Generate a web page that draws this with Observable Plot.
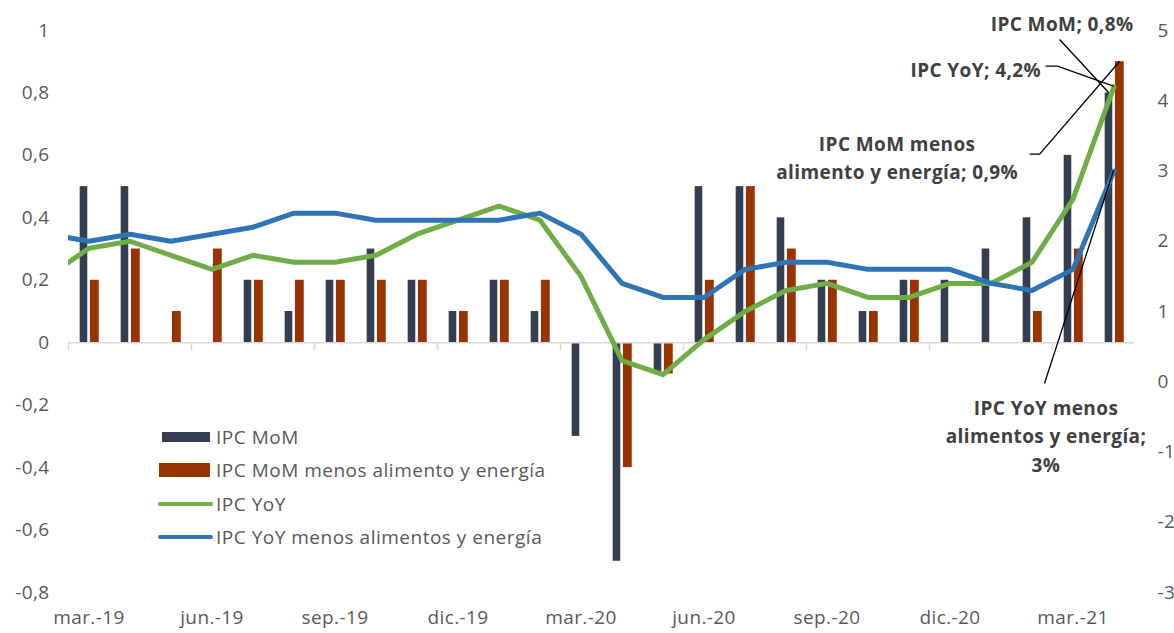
<!DOCTYPE html>
<html><head><meta charset="utf-8">
<script src="https://cdn.jsdelivr.net/npm/d3@7"></script>
<script src="https://cdn.jsdelivr.net/npm/@observablehq/plot@0.6"></script>
<style>
body{margin:0;background:#fff;}
#wrap{position:relative;width:1174px;height:633px;font-family:"Open Sans",sans-serif;}
.leg{position:absolute;left:158px;display:flex;align-items:center;height:26px;font-size:19px;letter-spacing:0.5px;color:#595959;white-space:nowrap;}
.sw{display:inline-block;margin-right:5px;}
</style></head><body><div id="wrap"></div>
<script>
// Categories (monthly)
const months = ["mar.-19","abr.-19","may.-19","jun.-19","jul.-19","ago.-19","sep.-19","oct.-19","nov.-19","dic.-19","ene.-20","feb.-20","mar.-20","abr.-20","may.-20","jun.-20","jul.-20","ago.-20","sep.-20","oct.-20","nov.-20","dic.-20","ene.-21","feb.-21","mar.-21","abr.-21"];
// Bars (left axis, %)
const ipcMoM     = [0.5,0.5,0,0,0.2,0.1,0.2,0.3,0.2,0.1,0.2,0.1,-0.3,-0.7,-0.1,0.5,0.5,0.4,0.2,0.1,0.2,0.2,0.3,0.4,0.6,0.8];
const ipcMoMCore = [0.2,0.3,0.1,0.3,0.2,0.2,0.2,0.2,0.2,0.1,0.2,0.2,0,-0.4,-0.1,0.2,0.5,0.3,0.2,0.1,0.2,0,0,0.1,0.3,0.9];
// Lines (right axis, %), starting one month earlier (feb.-19, clipped at the left edge)
const lineMonths = ["feb.-19"].concat(months);
const ipcYoY     = [1.5,1.9,2.0,1.8,1.6,1.8,1.7,1.7,1.8,2.1,2.3,2.5,2.3,1.5,0.3,0.1,0.6,1.0,1.3,1.4,1.2,1.2,1.4,1.4,1.7,2.6,4.2];
const ipcYoYCore = [2.1,2.0,2.1,2.0,2.1,2.2,2.4,2.4,2.3,2.3,2.3,2.3,2.4,2.1,1.4,1.2,1.2,1.6,1.7,1.7,1.6,1.6,1.6,1.4,1.3,1.6,3.0];
// Tick labels
const leftTicks = [1,0.8,0.6,0.4,0.2,0,-0.2,-0.4,-0.6,-0.8];
const leftTickLabels = ["1","0,8","0,6","0,4","0,2","0","-0,2","-0,4","-0,6","-0,8"];
const rightTicks = [5,4,3,2,1,0,-1,-2,-3];
const rightTickLabels = ["5","4","3","2","1","0","-1","-2","-3"];
const seriesNames = ["IPC MoM","IPC MoM menos alimento y energía","IPC YoY","IPC YoY menos alimentos y energía"];
const colors = ["#333f50","#993300","#70ad47","#2e75b6"];

// secondary axis [-3,5] mapped onto primary [-0.8,1]
const toLeft = v => -0.8 + (v + 3) * 0.225;

const bars = months.map((m, i) => ({i, mom: ipcMoM[i], core: ipcMoMCore[i]}));
const lineData = lineMonths.map((m, k) => ({i: k - 1, yoy: toLeft(ipcYoY[k]), core: toLeft(ipcYoYCore[k])}));
const quarterIdx = months.map((m, i) => i).filter(i => i % 3 === 0);
const rightTickPos = rightTicks.map(toLeft);
const last = months.length - 1;

const annotations = [
  {text: "IPC MoM; 0,8%", x: last - 0.12, y: ipcMoM[last], path: [[-49, -53]], dx: -47, dy: -71, anchor: "middle"},
  {text: "IPC YoY; 4,2%", x: last, y: toLeft(ipcYoY[ipcYoY.length - 1]), path: [[-56, -20], [-68, -20]], dx: -73, dy: -19, anchor: "end"},
  {text: "IPC MoM menos\nalimento y energía; 0,9%", x: last + 0.15, y: ipcMoMCore[last], path: [[-80, 93], [-90, 93]], dx: -223, dy: 94, anchor: "middle"},
  {text: "IPC YoY menos\nalimentos y energía;\n3%", x: last, y: toLeft(ipcYoYCore[ipcYoYCore.length - 1]), path: [[-69, 213]], dx: -68, dy: 263, anchor: "middle"}
];

const leaders = (index, scales, values, dim, context) => {
  const g = d3.create("svg:g");
  for (const a of annotations) {
    const px = scales.x(a.x), py = scales.y(a.y);
    const pts = [[px, py]].concat(a.path.map(([ox, oy]) => [px + ox, py + oy]));
    g.append("path").attr("d", d3.line()(pts)).attr("fill", "none").attr("stroke", "#000").attr("stroke-width", 1.3);
  }
  return g.node();
};

const chart = Plot.plot({
  width: 1174, height: 633,
  marginLeft: 68, marginRight: 40, marginTop: 30, marginBottom: 41,
  x: {domain: [-0.5, 25.5], axis: null},
  y: {domain: [-0.8, 1], axis: null},
  style: "font-family:'Open Sans',sans-serif;font-size:19px;letter-spacing:0.4px;color:#595959;background:#fff;overflow:visible;",
  marks: [
    Plot.rect(bars.filter(d => d.mom !== 0), {x1: d => d.i - 0.215, x2: d => d.i - 0.03, y1: 0, y2: "mom", fill: colors[0]}),
    Plot.rect(bars.filter(d => d.core !== 0), {x1: d => d.i + 0.035, x2: d => d.i + 0.25, y1: 0, y2: "core", fill: colors[1]}),
    Plot.ruleY([0], {stroke: "#d9d9d9", strokeWidth: 1.5}),
    Plot.ruleX(quarterIdx, {x: d => d - 0.5, y1: 0, y2: 0, insetBottom: -8, stroke: "#d9d9d9", strokeWidth: 1.5}),
    Plot.line(lineData, {x: "i", y: "yoy", stroke: colors[2], strokeWidth: 5, strokeLinejoin: "round", clip: true}),
    Plot.line(lineData, {x: "i", y: "core", stroke: colors[3], strokeWidth: 5, strokeLinejoin: "round", clip: true}),
    Plot.axisY(leftTicks, {anchor: "left", tickSize: 0, tickPadding: 19, tickFormat: d => leftTickLabels[leftTicks.indexOf(d)], fill: "#595959"}),
    Plot.axisY(rightTickPos, {anchor: "right", tickSize: 0, tickPadding: 23, tickFormat: d => rightTickLabels[rightTickPos.indexOf(d)], fill: "#595959"}),
    Plot.axisX(quarterIdx, {anchor: "bottom", tickSize: 0, tickPadding: 18, tickFormat: d => months[d], fill: "#595959"}),
    leaders,
    ...annotations.map(a => Plot.text([a], {x: "x", y: "y", text: "text", dx: a.dx, dy: a.dy, textAnchor: a.anchor, lineAnchor: "middle", lineHeight: 1.5, fontWeight: "bold", fontSize: 19, fill: "#404040"}))
  ]
});

const wrap = document.getElementById("wrap");
wrap.appendChild(chart);

// Legend inside the plot area
const legendRows = [
  {top: 424, sw: `<span class="sw" style="width:48px;height:10px;background:${colors[0]};margin-left:4px;margin-right:6px"></span>`},
  {top: 457, sw: `<span class="sw" style="width:51px;height:14px;background:${colors[1]};margin-left:1px;margin-right:6px"></span>`},
  {top: 491, sw: `<span class="sw" style="width:55px;height:4px;border-radius:2px;background:${colors[2]};margin-right:3px"></span>`},
  {top: 524, sw: `<span class="sw" style="width:55px;height:4px;border-radius:2px;background:${colors[3]};margin-right:3px"></span>`}
];
legendRows.forEach((r, k) => {
  const d = document.createElement("div");
  d.className = "leg";
  d.style.top = r.top + "px";
  d.innerHTML = r.sw + `<span>${seriesNames[k]}</span>`;
  wrap.appendChild(d);
});
</script></body></html>
